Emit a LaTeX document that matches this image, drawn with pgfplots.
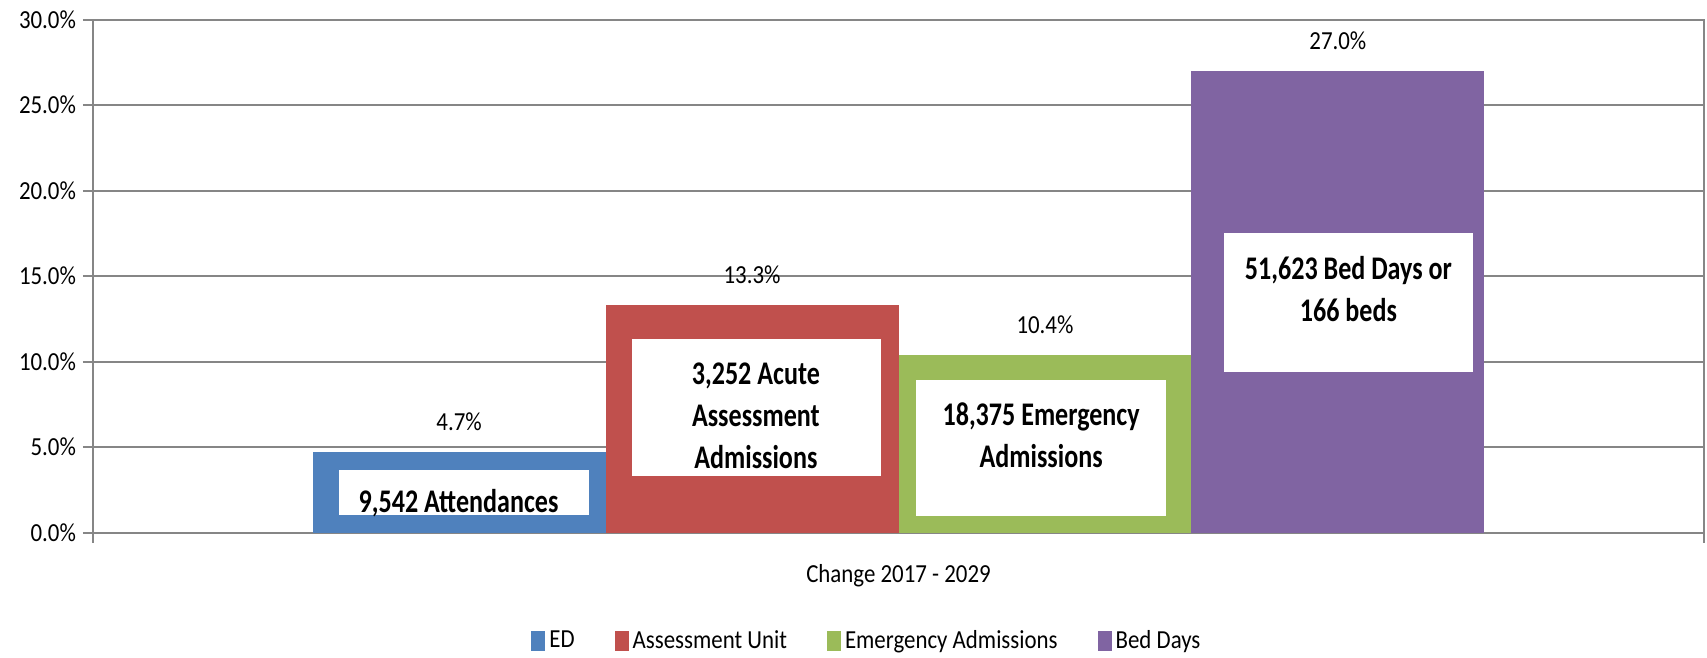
\documentclass[border=0pt]{standalone}
\usepackage{fontspec}
\setmainfont{Carlito}[FakeStretch=0.88]
\newfontfamily\boxfont{Carlito}[FakeStretch=0.79]
\usepackage{pgfplots}
\pgfplotsset{compat=1.18}
\definecolor{cED}{RGB}{79,129,189}
\definecolor{cAU}{RGB}{192,80,77}
\definecolor{cEA}{RGB}{155,187,89}
\definecolor{cBD}{RGB}{128,100,162}
\definecolor{gridgray}{RGB}{134,134,134}
\newcommand{\nf}{\fontsize{13}{15.6}\selectfont}
\newcommand{\bxf}{\boxfont\bfseries\fontsize{16.5}{21}\selectfont}
\begin{document}
\begin{tikzpicture}
\begin{axis}[
  name=ax,
  scale only axis, width=805.5pt, height=256.5pt,
  xmin=0, xmax=5.5, ymin=0, ymax=30,
  ybar, bar width=1, bar shift=0pt,
  xtick={0,5.5}, xticklabels={},
  ytick={0,5,...,30},
  yticklabels={0.0\%,5.0\%,10.0\%,15.0\%,20.0\%,25.0\%,30.0\%},
  ymajorgrids, grid style={gridgray, line width=1pt},
  axis line style={gridgray, line width=1pt},
  tick style={gridgray, line width=1pt},
  tick align=outside, major tick length=5pt,
  tick pos=left,
  ticklabel style={font=\nf, text=black},
  xlabel={Change 2017 - 2029},
  xlabel style={at={(axis description cs:0.5,-0.0838)}, anchor=center, font=\nf, text=black},
  legend style={at={(0.481,-0.2105)}, anchor=center, legend columns=4, draw=none, font=\nf,
    /tikz/every even column/.append style={column sep=18pt}},
  legend image code/.code={\fill[#1] (0pt,-5pt) rectangle (7pt,5pt);},
  nodes near coords={\pgfmathprintnumber[fixed,fixed zerofill,precision=1]{\pgfplotspointmeta}\%},
  every node near coord/.append style={font=\nf, text=black, yshift=7pt},
  /pgf/number format/assume math mode=true,
]
\addplot[fill=cED, draw=none, bar shift=0pt] coordinates {(1.25,4.7)};
\addplot[fill=cAU, draw=none, bar shift=0pt] coordinates {(2.25,13.3)};
\addplot[fill=cEA, draw=none, bar shift=0pt] coordinates {(3.25,10.4)};
\addplot[fill=cBD, draw=none, bar shift=0pt] coordinates {(4.25,27.0)};
\legend{ED, Assessment Unit, Emergency Admissions, Bed Days}

\node[fill=white, inner sep=0pt, minimum width=125pt, minimum height=22.5pt] at (axis cs:1.268,2.37) {};
\node[font=\bxf, align=center, text=black] at (axis cs:1.248,1.75) {9,542 Attendances};

\node[fill=white, inner sep=0pt, minimum width=124.5pt, minimum height=68.5pt] at (axis cs:2.265,7.34) {};
\node[font=\bxf, align=center, text=black] at (axis cs:2.263,6.84) {3,252 Acute\\Assessment\\Admissions};

\node[fill=white, inner sep=0pt, minimum width=125pt, minimum height=68pt] at (axis cs:3.238,4.97) {};
\node[font=\bxf, align=center, text=black] at (axis cs:3.237,5.70) {18,375 Emergency\\Admissions};

\node[fill=white, inner sep=0pt, minimum width=124.5pt, minimum height=69.5pt] at (axis cs:4.285,13.48) {};
\node[font=\bxf, align=center, text=black] at (axis cs:4.286,14.27) {51,623 Bed Days or\\166 beds};
\end{axis}
\pgfresetboundingbox
\path[use as bounding box] ([shift={(-46.5pt,-62.5pt)}]ax.south west) rectangle ([shift={(1.5pt,9.8pt)}]ax.north east);
\end{tikzpicture}
\end{document}
